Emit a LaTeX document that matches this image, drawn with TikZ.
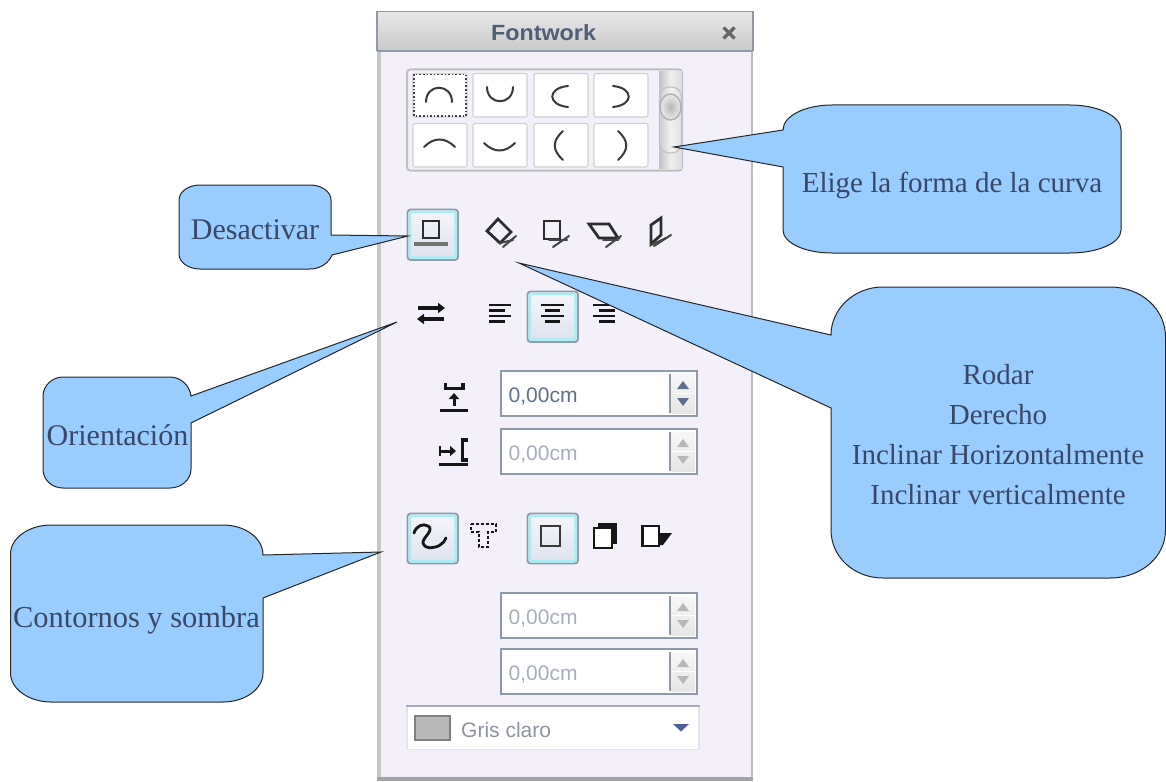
\documentclass[tikz,border=0pt]{standalone}
\usepackage{fontspec}
\setmainfont{Liberation Serif}
\setsansfont{Liberation Sans}
\usetikzlibrary{arrows.meta}
\definecolor{bub}{HTML}{99CCFF}
\definecolor{bubtext}{HTML}{3A4766}
\definecolor{panelbg}{HTML}{F4F0FA}
\definecolor{frame}{HTML}{8E9AA8}
\definecolor{spindark}{HTML}{5F6F8C}
\definecolor{spinlight}{HTML}{A6AEBC}
\definecolor{icon}{HTML}{161616}
\definecolor{glow}{HTML}{A8EEF4}
\definecolor{btntop}{HTML}{F5F6FA}
\definecolor{btnbot}{HTML}{DEE2EE}
\tikzset{
  bubble/.style={draw=black!85,fill=bub,line width=1,line join=miter},
  bubbletext/.style={anchor=base,inner sep=0,text=bubtext,font=\fontsize{30}{39.7}\selectfont},
  bubbletextsmall/.style={anchor=base,inner sep=0,text=bubtext,font=\fontsize{29}{39.7}\selectfont},
  activebtn/.style={rounded corners=3,draw=frame,line width=1.8,top color=btntop,bottom color=btnbot},
  activeglow/.style={rounded corners=2,draw=glow,line width=2.6},
  cell/.style={rounded corners=2,draw=black!18,fill=white,line width=1.2},
  arcline/.style={draw=icon!85,line width=2,line cap=round},
  iconline/.style={draw=icon!90,line width=2.8},
  tailline/.style={draw=icon!80,line width=2,line cap=round},
  thickline/.style={draw=icon,line width=3.4},
  alignline/.style={draw=icon,line width=2.2},
  spinbox/.style={draw=frame,line width=1.8,fill=white},
  spintext/.style={anchor=base west,inner sep=0,font=\sffamily\fontsize{21}{21}\selectfont},
  spinbtn/.style={top color=black!3,bottom color=black!10},
  spinsep/.style={draw=frame,line width=1.4},
  tridark/.style={fill=spindark},
  trilight/.style={fill=black!28},
}
\newcommand{\SpinBox}[6]{% name, top, bottom, text colour, triangle style, text
  \draw[spinbox] (501,#2) rectangle (697,#3);
  \fill[spinbtn] (671,#2+3) rectangle (695,#3-3);
  \draw[spinsep] (670,#2+3) -- (670,#3-3);
  \draw[draw=white,line width=1] (671,#2/2+#3/2) -- (695,#2/2+#3/2);
  \fill[#5] (683,#2+10) -- (689,#2+18) -- (677,#2+18) -- cycle;
  \fill[#5] (683,#3-10) -- (689,#3-18) -- (677,#3-18) -- cycle;
  \node[spintext,text=#4] (#1) at (508.5,#3-14) {#6};
}
\begin{document}
\begin{tikzpicture}[x=1pt,y=-1pt]
\useasboundingbox (0,0) rectangle (1166,781);
% panel
\fill[panelbg] (377,11) rectangle (753,778);
\fill[black!22] (377,51) rectangle (381,778);
\fill[black!26] (750.5,51) rectangle (753,778);
\fill[black!36] (377,777) rectangle (753,781);
\shade[top color=black!9,bottom color=black!21] (377,12) rectangle (753,50);
\draw[frame,line width=1.6] (377,11.5) -- (753,11.5);
\draw[frame,line width=1.6] (377,51) -- (753,51);
\draw[frame,line width=1.6] (753,11) -- (753,51);
\draw[frame,line width=1.6] (377,11) -- (377,51);
\node[anchor=base,inner sep=0,text=spindark!85!black,font=\sffamily\bfseries\fontsize{22}{22}\selectfont] (title) at (543.5,41) {\scalebox{1.06}[1]{Fontwork}};
\draw[draw=black!60,line width=3.2] (723.5,27.5) -- (734.5,38.5);
\draw[draw=black!60,line width=3.2] (734.5,27.5) -- (723.5,38.5);
% gallery
\draw[rounded corners=3,draw=black!25,fill=panelbg,line width=2] (407,69.5) rectangle (682,170.5);
\foreach \xa/\xb in {413/467,473/527,534/588,594/648}{
  \draw[cell] (\xa,73.5) rectangle (\xb,117);
  \draw[cell] (\xa,123.5) rectangle (\xb,167);
}
\draw[draw=black!75,dotted,line width=1.6] (414,74.5) rectangle (466,116);
\draw[arcline] (426,102) .. controls (426,83) and (452,83) .. (452,102);
\draw[arcline] (487,87) .. controls (487,106) and (513,106) .. (513,87);
\draw[arcline] (568,86) .. controls (547,88) and (547,105) .. (568,107);
\draw[arcline] (613,86) .. controls (634,88) and (634,105) .. (613,107);
\draw[arcline] (424,147) .. controls (434,137) and (445,137) .. (455,147);
\draw[arcline] (484,143) .. controls (494,153) and (505,153) .. (515,143);
\draw[arcline] (563,131) .. controls (552,141) and (552,150) .. (563,160);
\draw[arcline] (618,131) .. controls (629,141) and (629,150) .. (618,160);
% scrollbar
\shade[left color=black!24,right color=black!14,middle color=black!6] (659,72) rectangle (682,168);
\draw[draw=black!24,line width=1.2,left color=black!20,right color=black!12,middle color=black!5,rounded corners=10] (659.5,87) rectangle (681.5,153);
\draw[draw=black!30,line width=1.5,inner color=black!28,outer color=black!8] (670.5,107) ellipse (10.5 and 13);
% row 1 icons
\draw[activebtn] (407.5,209.5) rectangle (458,260);
\draw[activeglow] (409.8,211.8) rectangle (455.7,257.7);
\draw[iconline] (423,221) rectangle (439,238);
\draw[draw=black!55,line width=3.8] (414,244) -- (448,244);
\draw[iconline,line join=miter] (498,219) -- (511,232) -- (500,243) -- (487,231) -- cycle;
\draw[tailline] (503,247) -- (516,236);
\draw[tailline] (500,243) -- (513,240);
\draw[iconline] (544,221) rectangle (560,239);
\draw[tailline] (553,247) -- (569,236);
\draw[tailline] (549,240) -- (567,240);
\draw[iconline] (589,224) -- (609,224) -- (618,238) -- (599,238) -- cycle;
\draw[tailline] (606,247) -- (621,236);
\draw[tailline] (603,240) -- (618,240);
\draw[iconline] (651,225) -- (661,218) -- (661,235) -- (651,244) -- cycle;
\draw[tailline] (654,246) -- (671,235);
\draw[tailline] (651,245) -- (666,238);
% row 2 icons
\draw[thickline,-{Triangle[length=7,width=10]}] (418,308) -- (445,308);
\draw[thickline,-{Triangle[length=7,width=10]}] (444,319) -- (417,319);
\draw[alignline] (489,305) -- (511,305);
\draw[alignline] (489,310.5) -- (505,310.5);
\draw[alignline] (489,316) -- (511,316);
\draw[alignline] (489,321.5) -- (505,321.5);
\draw[activebtn] (527.5,291.5) rectangle (578,342);
\draw[activeglow] (529.8,293.8) rectangle (575.7,339.7);
\draw[alignline] (541,305) -- (564,305);
\draw[alignline] (545,310.5) -- (560,310.5);
\draw[alignline] (541,316) -- (564,316);
\draw[alignline] (545,321.5) -- (560,321.5);
\draw[alignline] (593,305) -- (615,305);
\draw[alignline] (599,310.5) -- (615,310.5);
\draw[alignline] (593,316) -- (615,316);
\draw[alignline] (599,321.5) -- (615,321.5);
% spin icons
\draw[thickline] (445.5,383) -- (445.5,388.5) -- (463,388.5) -- (463,383);
\draw[thickline] (440,410.5) -- (468,410.5);
\draw[line width=3,draw=icon,-{Triangle[length=6,width=10]}] (454,406) -- (454,393);
\draw[thickline] (439,464.5) -- (468,464.5);
\draw[line width=3,draw=icon,-{Triangle[length=6,width=10]}] (441,451) -- (456,451);
\draw[draw=icon,line width=2] (439.5,446) -- (439.5,456);
\draw[thickline] (468,440) -- (462.5,440) -- (462.5,460) -- (468,460);
\SpinBox{spinA}{371}{416}{spindark}{tridark}{0,00cm}
\SpinBox{spinB}{429}{474}{spinlight}{trilight}{0,00cm}
% row 3 icons
\draw[activebtn] (407.5,513.5) rectangle (458,563.5);
\draw[activeglow] (409.8,515.8) rectangle (455.7,561.2);
\draw[draw=icon,line width=2.8,line cap=round] (414,533) .. controls (416,526) and (423,523) .. (428,526) .. controls (435,530) and (422,538) .. (423,543) .. controls (425,550) and (436,548) .. (440,545) .. controls (443,543) and (445,541) .. (446,538);
\draw[draw=icon,line width=2,dash pattern=on 3 off 2] (471,524) -- (496,524) -- (496,532) -- (488,532) -- (488,547) -- (479,547) -- (479,532) -- (471,532) -- cycle;
\draw[activebtn] (527.5,513.5) rectangle (578,563.5);
\draw[activeglow] (529.8,515.8) rectangle (575.7,561.2);
\draw[draw=icon!85,line width=2.2] (541,526) rectangle (560,546);
\fill[icon] (598,523) rectangle (617,544);
\draw[draw=icon,line width=2.4,fill=white] (594,528) rectangle (612,548);
\draw[draw=icon,line width=2.4,fill=white] (642.5,526) rectangle (659,546);
\fill[icon] (659,533) -- (672,533) -- (663,545) -- (659,545) -- cycle;
\SpinBox{spinC}{593}{638}{spinlight}{trilight}{0,00cm}
\SpinBox{spinD}{649}{694}{spinlight}{trilight}{0,00cm}
% combo
\fill[white] (407,706) rectangle (699,749.5);
\draw[draw=black!10,line width=1.2] (407,706) -- (407,749.5) -- (699,749.5) -- (699,706);
\draw[draw=frame!80,line width=1.4] (406,706) -- (700,706);
\draw[draw=black!50,fill=black!28,line width=1.4] (415,716) rectangle (450,740);
\node[spintext,text=spinlight!85!black] (colour) at (461,737) {Gris claro};
\fill[spindark!85!blue] (673,724) -- (689,724) -- (681,731.5) -- cycle;
% callouts
\coordinate (tipElige) at (674,147);
\coordinate (tipDesact) at (408,236);
\coordinate (tipOrient) at (397,322);
\coordinate (tipCont) at (381,552);
\coordinate (tipRodar) at (519,263);
\draw[bubble] (832,105) -- (1070,105) .. controls (1098,105) and (1121,116) .. (1121,130) -- (1121,230) .. controls (1121,243) and (1098,253) .. (1070,253) -- (832,253) .. controls (805,253) and (783,243) .. (783,230) -- (783,167) -- (tipElige) -- (783,130) .. controls (783,116) and (805,105) .. (832,105) -- cycle;
\draw[bubble] (200,185) -- (310,185) .. controls (322,185) and (331,192) .. (331,200) -- (331,235) -- (tipDesact) -- (332,255) .. controls (329,263) and (320,269) .. (310,269) -- (200,269) .. controls (188,269) and (179,262) .. (179,254) -- (179,200) .. controls (179,192) and (188,185) .. (200,185) -- cycle;
\draw[bubble] (63,377) -- (170,377) .. controls (181,377) and (190,386) .. (191,396) -- (tipOrient) -- (191,423) -- (191,469) .. controls (191,480) and (181,488) .. (170,488) -- (63,488) .. controls (52,488) and (43,480) .. (43,469) -- (43,396) .. controls (43,386) and (52,377) .. (63,377) -- cycle;
\draw[bubble] (51,525) -- (223,525) .. controls (245,525) and (263,538) .. (263,555) -- (tipCont) -- (263,598) -- (263,673) .. controls (263,689) and (245,702) .. (223,702) -- (51,702) .. controls (29,702) and (10.5,689) .. (10.5,673) -- (10.5,554) .. controls (10.5,538) and (29,525) .. (51,525) -- cycle;
\draw[bubble] (883,287) -- (1110,287) .. controls (1141,287) and (1165.5,309) .. (1165.5,337) -- (1165.5,530) .. controls (1165.5,557) and (1141,578) .. (1110,578) -- (883,578) .. controls (854,578) and (831,557) .. (831,530) -- (831,408) -- (tipRodar) -- (831,335) .. controls (831,309) and (854,287) .. (883,287) -- cycle;
\node[bubbletextsmall] (labelElige) at (952,192) {Elige la forma de la curva};
\node[bubbletext] (labelDesact) at (255,239) {Desactivar};
\node[bubbletext] (labelOrient) at (117.5,445) {Orientación};
\node[bubbletext,font=\fontsize{30.4}{39.7}\selectfont] (labelCont) at (136.5,627) {Contornos y sombra};
\node[bubbletextsmall,align=center] (labelRodar) at (998,504) {Rodar\\Derecho\\Inclinar Horizontalmente\\Inclinar verticalmente};
\end{tikzpicture}
\end{document}
